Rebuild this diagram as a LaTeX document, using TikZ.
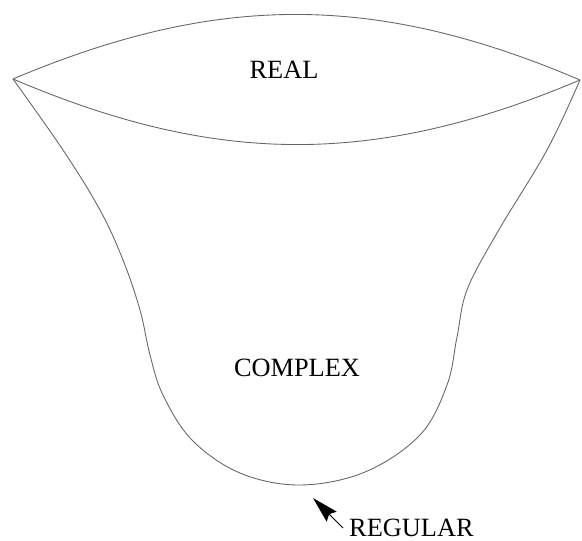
\documentclass[tikz,border=0pt]{standalone}
\usepackage{fontspec}
\setmainfont{Liberation Serif}
\usepackage{tikz}
\usetikzlibrary{arrows.meta}

\begin{document}
\begin{tikzpicture}[x=0.02cm,y=-0.02cm]
\tikzset{rim/.style={black!60, line width=0.5pt},
         lbl/.style={font=\fontsize{15}{18}\selectfont}}
\useasboundingbox (0,0) rectangle (582,541);
\coordinate (lt) at (13,79);
\coordinate (rt) at (580,80);
\draw [rim] (lt) to[bend left=23] (rt);
\draw [rim] (lt) to[bend right=23] (rt);
\draw [rim] plot[smooth, tension=0.6] coordinates {(lt) (63,150) (100,210) (123,260) (140,310) (150,355) (163,395) (192,440) (240,473) (300,485) (365,472) (420,435) (447,385) (457,337) (467,290) (497,233) (547,150) (rt)};
\node [lbl] (real) at (284,70) {REAL};
\node [lbl] (complex) at (297,368) {COMPLEX};
\coordinate (tip) at (313,498);
\node [lbl, anchor=west] (regular) at (343,528) {REGULAR};
\draw [line width=0.6pt, -{Stealth[length=15pt, width=8pt, inset=2pt]}] (regular.west) -- (tip);
\end{tikzpicture}
\end{document}
